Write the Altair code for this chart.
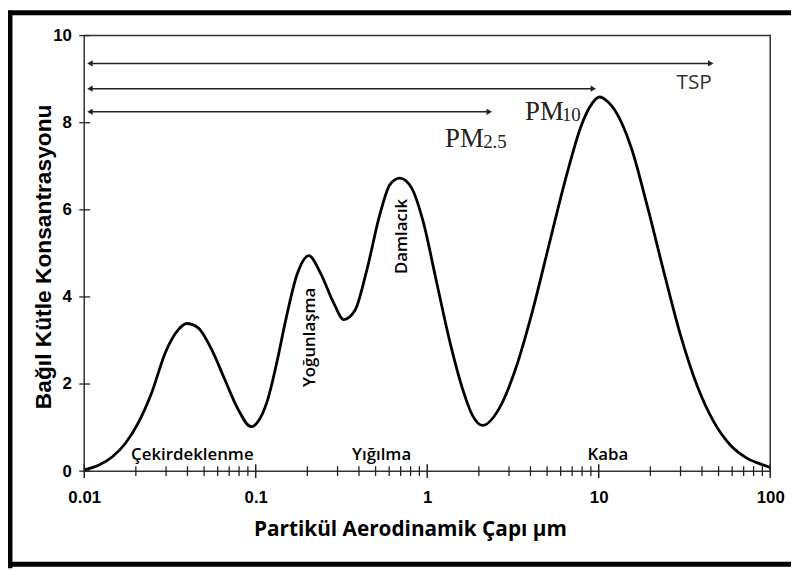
import altair as alt
import pandas as pd

# ---- data ----
size_um = [0.01, 0.0122, 0.0146, 0.0174, 0.0208, 0.0248, 0.0297, 0.0354, 0.0396, 0.0462,
           0.0552, 0.0659, 0.0787, 0.094, 0.1028, 0.117, 0.134, 0.147, 0.175, 0.204,
           0.239, 0.285, 0.326, 0.380, 0.444, 0.530, 0.606, 0.692, 0.809, 0.944,
           1.127, 1.346, 1.607, 1.836, 2.10, 2.62, 3.27, 4.08, 5.09, 6.36,
           7.94, 8.87, 10.1, 11.3, 12.4, 15.5, 19.3, 24.1, 30.1, 37.5,
           46.9, 58.5, 73.0, 91.2, 100]
mass = [0.03, 0.14, 0.33, 0.64, 1.13, 1.81, 2.72, 3.25, 3.39, 3.29,
        2.80, 2.11, 1.43, 1.02, 1.13, 1.62, 2.57, 3.33, 4.54, 4.95,
        4.54, 3.86, 3.48, 3.70, 4.61, 5.90, 6.58, 6.73, 6.51, 5.75,
        4.39, 3.02, 1.89, 1.28, 1.05, 1.43, 2.34, 3.63, 5.14, 6.66,
        7.95, 8.36, 8.59, 8.48, 8.29, 7.42, 6.05, 4.54, 3.10, 1.96,
        1.13, 0.60, 0.30, 0.14, 0.08]

x_tick_labels = [0.01, 0.1, 1, 10, 100]
y_tick_labels = [0, 2, 4, 6, 8, 10]
minor_mult = [2, 3, 4, 5, 6, 7, 8, 9]

arrow_names = ["TSP", "PM10", "PM2.5"]
arrow_start = [0.0108, 0.0108, 0.0108]
arrow_end = [45, 9.3, 2.3]
arrow_level = [9.36, 8.78, 8.25]

region_text = ["Çekirdeklenme", "Yığılma", "Kaba"]
region_x = [0.0427, 0.542, 11.3]
region_y = [0.25, 0.25, 0.25]

mode_text = ["Yoğunlaşma", "Damlacık"]
mode_x = [0.208, 0.717]
mode_y = [3.07, 5.39]

tsp_label = {"text": ["TSP"], "x": [36.0], "y": [8.77]}
pm_main = {"text": ["PM", "PM"], "x": [3.72, 1.27], "y": [8.06, 7.44]}
pm_sub = {"text": ["10", "2.5"], "x": [6.1, 2.12], "y": [8.04, 7.42]}

# ---- tables ----
curve = pd.DataFrame({"size": size_um, "mass": mass})
arrows = pd.DataFrame({"name": arrow_names, "x0": arrow_start, "x1": arrow_end, "y": arrow_level})
regions = pd.DataFrame({"text": region_text, "x": region_x, "y": region_y})
modes = pd.DataFrame({"text": mode_text, "x": mode_x, "y": mode_y})
minor_ticks = pd.DataFrame({"v": [m * d for d in [0.01, 0.1, 1, 10] for m in minor_mult]})
major_ticks = pd.DataFrame({"v": x_tick_labels})
y_ticks = pd.DataFrame({"v": y_tick_labels})

W, H = 693, 440
PAD_L, PAD_T, TOT_W, TOT_H = 77, 25, 791, 563

xs = alt.Scale(type="log", domain=[0.01, 100])
ys = alt.Scale(domain=[0, 10], nice=False)

line = alt.Chart(curve).mark_line(color="black", strokeWidth=2.8, interpolate="monotone").encode(
    x=alt.X("size:Q", scale=xs, axis=alt.Axis(
        values=x_tick_labels, format="~g", title="Partikül Aerodinamik Çapı µm",
        domain=False, ticks=False, tickSize=0, grid=False,
        labelFont="Liberation Sans", labelFontWeight="bold", labelFontSize=17,
        labelColor="black", labelPadding=19, labelFlush=False,
        titleFont="Open Sans", titleFontWeight="bold", titleFontSize=21, titleColor="black",
        titleX=329, titleY=59, titleBaseline="middle", titleAlign="center")),
    y=alt.Y("mass:Q", scale=ys, axis=alt.Axis(
        values=y_tick_labels, title="Bağıl Kütle Konsantrasyonu",
        domain=False, ticks=False, tickSize=0, grid=False,
        labelFont="Liberation Sans", labelFontWeight="bold", labelFontSize=17,
        labelColor="black", labelPadding=13,
        titleFont="Liberation Sans", titleFontWeight="bold", titleFontSize=23, titleColor="black",
        titleX=-41, titleY=223, titleAngle=270, titleBaseline="middle", titleAlign="center")),
)

minor = alt.Chart(minor_ticks).mark_rule(color="#222", strokeWidth=1.3).encode(
    x=alt.X("v:Q", scale=xs), y=alt.value(H - 5), y2=alt.value(H + 5))
major = alt.Chart(major_ticks).mark_rule(color="#222", strokeWidth=1.5).encode(
    x=alt.X("v:Q", scale=xs), y=alt.value(H - 7), y2=alt.value(H + 7))
yt = alt.Chart(y_ticks).mark_rule(color="#222", strokeWidth=1.3).encode(
    y=alt.Y("v:Q", scale=ys), x=alt.value(-5), x2=alt.value(6))

arrow_lines = alt.Chart(arrows).mark_rule(color="#222", strokeWidth=1.6).encode(
    x=alt.X("x0:Q", scale=xs), x2="x1:Q", y=alt.Y("y:Q", scale=ys))
head_r = alt.Chart(arrows).mark_point(shape="triangle-right", filled=True, color="#222",
                                      size=40, opacity=1).encode(
    x=alt.X("x1:Q", scale=xs), y=alt.Y("y:Q", scale=ys))
head_l = alt.Chart(arrows).mark_point(shape="triangle-left", filled=True, color="#222",
                                      size=40, opacity=1).encode(
    x=alt.X("x0:Q", scale=xs), y=alt.Y("y:Q", scale=ys))

region_lbl = alt.Chart(regions).mark_text(font="Open Sans", fontWeight=600, fontSize=17,
                                          color="black", baseline="alphabetic", align="center").encode(
    x=alt.X("x:Q", scale=xs), y=alt.Y("y:Q", scale=ys), text="text:N")
mode_lbl = alt.Chart(modes).mark_text(font="Open Sans", fontWeight=600, fontSize=17, angle=270,
                                      color="black", baseline="middle", align="center").encode(
    x=alt.X("x:Q", scale=xs), y=alt.Y("y:Q", scale=ys), text="text:N")

tsp = alt.Chart(pd.DataFrame(tsp_label)).mark_text(font="Open Sans", fontSize=21, color="#333",
                                                   baseline="alphabetic", align="center").encode(
    x=alt.X("x:Q", scale=xs), y=alt.Y("y:Q", scale=ys), text="text:N")
pm1 = alt.Chart(pd.DataFrame(pm_main)).mark_text(font="Liberation Serif", fontSize=27, color="#222",
                                                 baseline="alphabetic", align="left").encode(
    x=alt.X("x:Q", scale=xs), y=alt.Y("y:Q", scale=ys), text="text:N")
pm2 = alt.Chart(pd.DataFrame(pm_sub)).mark_text(font="Liberation Serif", fontSize=19, color="#222",
                                                baseline="alphabetic", align="left").encode(
    x=alt.X("x:Q", scale=xs), y=alt.Y("y:Q", scale=ys), text="text:N")

# outer figure border (left, top, bottom)
frame_src = pd.DataFrame({"k": [0]})
b_left = alt.Chart(frame_src).mark_rule(color="black", strokeWidth=5).encode(
    x=alt.value(-PAD_L + 2), y=alt.value(-PAD_T), y2=alt.value(TOT_H - PAD_T))
b_top = alt.Chart(frame_src).mark_rule(color="black", strokeWidth=5).encode(
    y=alt.value(-PAD_T + 2), x=alt.value(-PAD_L), x2=alt.value(TOT_W - PAD_L))
b_bot = alt.Chart(frame_src).mark_rule(color="black", strokeWidth=5).encode(
    y=alt.value(TOT_H - PAD_T - 4), x=alt.value(-PAD_L), x2=alt.value(TOT_W - PAD_L))

chart = alt.layer(
    line, minor, major, yt, arrow_lines, head_r, head_l,
    region_lbl, mode_lbl, tsp, pm1, pm2, b_left, b_top, b_bot
).resolve_scale(x="shared", y="shared").properties(
    width=W, height=H, autosize="none",
    padding={"left": PAD_L, "top": PAD_T, "right": TOT_W - PAD_L - W, "bottom": TOT_H - PAD_T - H},
    background="white",
).configure_view(stroke="#333", strokeWidth=1.5)

chart.save("out.html", embed_options={"renderer": "svg", "actions": False})
